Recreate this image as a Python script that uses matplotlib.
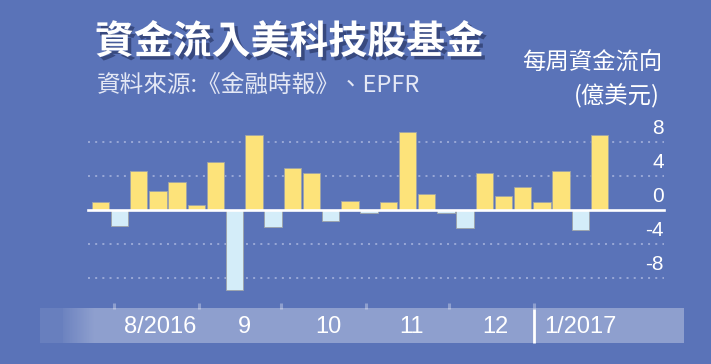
import numpy as np
import pandas as pd
import matplotlib
matplotlib.use("Agg")
import matplotlib.pyplot as plt
import matplotlib.dates as mdates
import matplotlib.patheffects as pe

plt.rcParams['font.family'] = ['Noto Sans CJK TC', 'DejaVu Sans']

BG = '#5a73b8'
YELLOW = '#fde37a'
LIGHT_BLUE = '#d4edf9'
GRID = '#aab6de'

TITLE = "資金流入美科技股基金"
SOURCE = "資料來源:《金融時報》、EPFR"
UNIT_LINES = ["每周資金流向", "(億美元)"]

# weekly flows, 100m USD
weeks = pd.date_range("2016-07-27", periods=27, freq="7D")
flows = [1.0, -1.9, 4.6, 2.2, 3.3, 0.6, 5.6, -9.4, 8.8, -2.0, 4.9, 4.4, -1.3, 1.1,
         -0.3, 1.0, 9.2, 1.9, -0.3, -2.1, 4.4, 1.6, 2.7, 1.0, 4.6, -2.4, 8.8]

y_ticks = [8, 4, 0, -4, -8]
month_starts = pd.date_range("2016-08-01", "2017-01-01", freq="MS")
month_labels = ["8/2016", "9", "10", "11", "12", "1/2017"]

# pixel layout helpers (figure is 711x364 px)
W, H = 711, 364
PX_PER_DAY = 19.2 / 7
PX_PER_UNIT = 8.5
X0_PX, ZERO_PX = 100.3, 210.0
d0 = mdates.date2num(weeks[0])


def px_x(p):
    return d0 + (p - X0_PX) / PX_PER_DAY


def px_y(p):
    return (ZERO_PX - p) / PX_PER_UNIT


fig = plt.figure(figsize=(W / 100, H / 100), dpi=100, facecolor=BG)
ax_l, ax_r, ax_t, ax_b = 30, 690, 120, 345
ax = fig.add_axes([ax_l / W, (H - ax_b) / H, (ax_r - ax_l) / W, (ax_b - ax_t) / H])
ax.set_facecolor('none')
ax.axis('off')

xmin_f = (88 - ax_l) / (ax_r - ax_l)
xmax_f = (664 - ax_l) / (ax_r - ax_l)

# dotted grid
for v in y_ticks:
    if v == 0:
        continue
    ax.axhline(v, xmin=xmin_f, xmax=xmax_f, color=GRID, lw=1.1,
               linestyle=(0, (1.3, 3.4)), zorder=1)

x = mdates.date2num(weeks)
vals = np.array(flows)
colors = [YELLOW if v >= 0 else LIGHT_BLUE for v in vals]
ax.bar(x, vals, width=6.3, color=colors, edgecolor='#9ea3a8', linewidth=0.6, zorder=2)

ax.axhline(0, xmin=xmin_f, xmax=xmax_f, color='white', lw=1.9, zorder=3)

for v in y_ticks:
    ax.text(xmax_f, v + 1.55, f"{v}", transform=ax.get_yaxis_transform(),
            ha='right', va='center', color='white', fontsize=15,
            family=['Liberation Sans', 'DejaVu Sans'])

# bottom time strip with faded left end
x_left, x_right = px_x(40), px_x(684)
y_top, y_bot = px_y(309), px_y(343)
n = 644
alpha = np.full(n, 0.32)
alpha[:23] = 0.09
alpha[23:55] = np.linspace(0.12, 0.32, 32)
strip = np.ones((1, n, 4))
strip[0, :, 3] = alpha
ax.imshow(strip, extent=[x_left, x_right, y_bot, y_top], aspect='auto',
          interpolation='nearest', zorder=1)

ms = mdates.date2num(month_starts)
ax.vlines(ms, px_y(309), px_y(302.5), color='white', alpha=0.32, lw=2.2, zorder=1)
ax.vlines(ms[-1], y_bot, y_top, color='white', lw=2.0, zorder=3)

month_ends = list(ms[1:]) + [ms[-1] + 31]
for s, e, lab in zip(ms, month_ends, month_labels):
    ax.text((s + e) / 2 + 1.5, px_y(327), lab, ha='center', va='center',
            color='white', fontsize=17, family=['Liberation Sans', 'DejaVu Sans'])

ax.set_xlim(px_x(ax_l), px_x(ax_r))
ax.set_ylim(px_y(ax_b), px_y(ax_t))

# titles
fig.text(95 / W, 1 - 42 / H, TITLE, ha='left', va='center', color='white',
         fontsize=28, fontweight='black',
         path_effects=[pe.withSimplePatchShadow(offset=(2.5, -2.5),
                                                shadow_rgbFace='#1c2850', alpha=0.55)])
fig.text(97 / W, 1 - 85 / H, SOURCE, ha='left', va='center', color='#e4e8f5',
         fontsize=17, fontweight='light')
fig.text(662 / W, 1 - 63 / H, UNIT_LINES[0], ha='right', va='center', color='white',
         fontsize=16.8)
fig.text(660 / W, 1 - 96 / H, UNIT_LINES[1], ha='right', va='center', color='white',
         fontsize=16.8)

fig.savefig("out.png", dpi=100, facecolor=BG)
